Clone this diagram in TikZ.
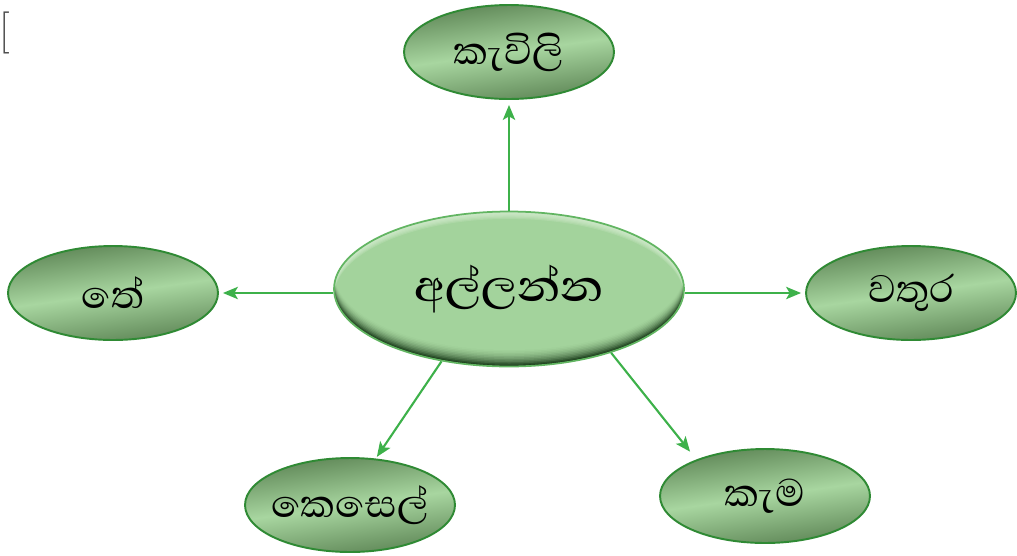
\documentclass[tikz,border=0pt]{standalone}
\usepackage{fontspec}
\newfontfamily\sinhala[Script=Sinhala]{Abhaya Libre}
\newfontfamily\sinhalamid[Script=Sinhala]{Abhaya Libre Medium}
\usetikzlibrary{shapes.geometric,arrows.meta}

\definecolor{leafdark}{HTML}{5E8656}
\definecolor{leaflight}{HTML}{A8D6A0}
\definecolor{leafedge}{HTML}{2F8A34}
\definecolor{hubfill}{HTML}{A3D39C}
\definecolor{hubdark}{HTML}{173817}
\definecolor{hublight}{HTML}{E2F3DE}
\definecolor{hubedge}{HTML}{62B562}
\definecolor{armgreen}{HTML}{3DB14A}

\pgfdeclareverticalshading{leafshade}{100bp}{color(0bp)=(leafdark); color(25bp)=(leafdark); color(50bp)=(leaflight); color(75bp)=(leafdark); color(100bp)=(leafdark)}

\tikzset{
  leaf/.style={ellipse, draw=leafedge, line width=1.1pt, shading=leafshade, shading angle=8,
    minimum width=4.2cm, minimum height=1.88cm, inner sep=0pt, inner xsep=-0.4cm,
    font=\sinhala\fontsize{28}{32}\selectfont},
  hub/.style={ellipse, draw=hubedge, line width=1pt, fill=hubdark,
    minimum width=7cm, minimum height=3.1cm, inner sep=0pt, font=\sinhalamid\fontsize{32}{38}\selectfont,
    path picture={
      \foreach \k [evaluate=\k as \p using int(100*(1-\k/12)^2)] in {0,...,12}
        \fill[hubdark!\p!hubfill] ([yshift=\k*0.85pt]path picture bounding box.center) ellipse [x radius=3.5cm, y radius=1.55cm];
      \foreach \k in {1,...,6}
        \fill[hublight, opacity=0.18, even odd rule] (path picture bounding box.center) ellipse [x radius=3.5cm, y radius=1.55cm]
          ([yshift=-\k*0.7pt]path picture bounding box.center) ellipse [x radius=3.5cm, y radius=1.55cm];
    }},
  arm/.style={draw=armgreen, line width=1.2pt, -{Stealth[length=8.5pt,width=7pt,inset=2pt]}}
}

\begin{document}
\begin{tikzpicture}[x=0.02cm,y=-0.02cm]
    \useasboundingbox (0,0) rectangle (1017,555);
    \node[anchor=west, text=black!70, font=\fontsize{24}{28}\selectfont] (B) at (-7,33) {[};

    \node[hub]  (H) at (509,289) {අල්ලන්න};
    \node[leaf] (T) at (509,52)  {කැවිලි};
    \node[leaf] (L) at (113,293) {තේ};
    \node[leaf] (R) at (911,293) {වතුර};
    \node[leaf] (K) at (350,505) {කෙසෙල්};
    \node[leaf] (M) at (765,496) {කැම};

    \draw[arm, shorten >=0.1cm] (H.north) -- (T.south);
    \draw[arm, shorten >=0.08cm] (H.west |- L.east) -- (L.east);
    \draw[arm, shorten >=0.08cm] (H.east |- R.west) -- (R.west);
    \draw[arm, shorten >=0.04cm] (H.-133) -- (K.61);
    \draw[arm, shorten >=0.2cm] (H.-32) -- (M.152);
\end{tikzpicture}
\end{document}
